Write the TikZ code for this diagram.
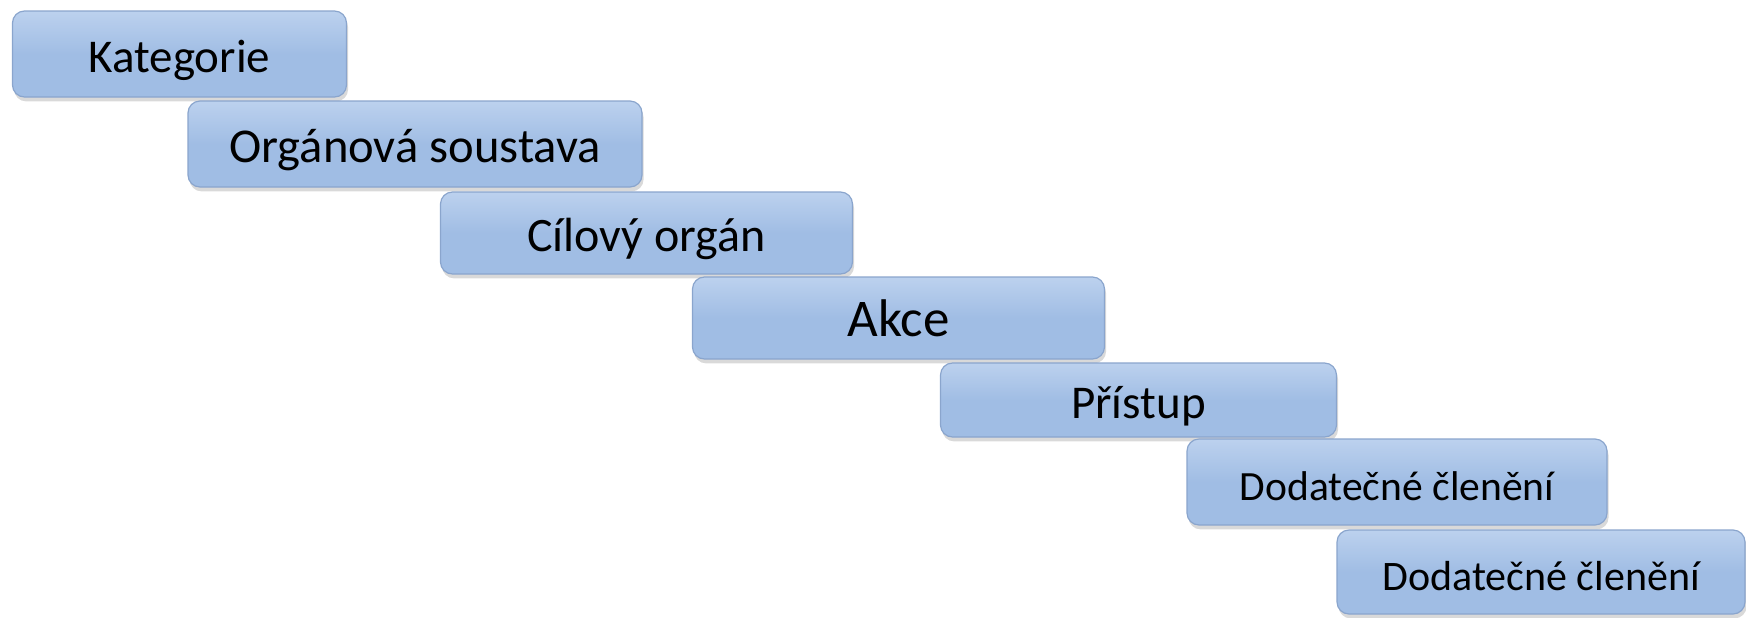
\documentclass[tikz,border=0pt]{standalone}
\usepackage{fontspec}
\setmainfont{Carlito}
\usepackage{tikz}
\usetikzlibrary{shadows}
\definecolor{boxfill}{RGB}{160,189,228}
\definecolor{boxtop}{RGB}{188,209,238}
\definecolor{boxedge}{RGB}{138,165,205}
\tikzset{box/.style={rectangle, rounded corners=6pt, draw=boxedge, line width=0.6pt, top color=boxtop, bottom color=boxfill, middle color=boxfill, inner sep=0pt, text centered, text height=18pt, text depth=0pt, drop shadow={opacity=0.3, shadow xshift=0.8pt, shadow yshift=-2.2pt}}}

\begin{document}
\begin{tikzpicture}[x=0.5pt, y=-0.5pt]
\useasboundingbox (0,0) rectangle (1746,617);

\node(kat) at (179.5, 54) [box, minimum width=167pt, minimum height=43pt, font=\fontsize{23.5}{28}\selectfont] {Kategorie};
\node(org) at (415, 144) [box, minimum width=227pt, minimum height=43pt, font=\fontsize{24.3}{29}\selectfont] {Orgánová soustava};
\node(cil) at (646.5, 233) [box, minimum width=206pt, minimum height=41pt, font=\fontsize{24}{29}\selectfont] {Cílový orgán};
\node(akce) at (898.5, 318) [box, minimum width=206pt, minimum height=41pt, font=\fontsize{26.5}{31}\selectfont] {Akce};
\node(pristup) at (1138.5, 400) [box, minimum width=198pt, minimum height=37pt, font=\fontsize{23.5}{28}\selectfont] {Přístup};
\node(dodA) at (1397, 482) [box, minimum width=210pt, minimum height=43pt, font=\fontsize{20.8}{25}\selectfont] {Dodatečné členění};
\node(dodB) at (1541, 572) [box, minimum width=204pt, minimum height=42pt, font=\fontsize{21}{25}\selectfont] {Dodatečné členění};

\end{tikzpicture}
\end{document}
